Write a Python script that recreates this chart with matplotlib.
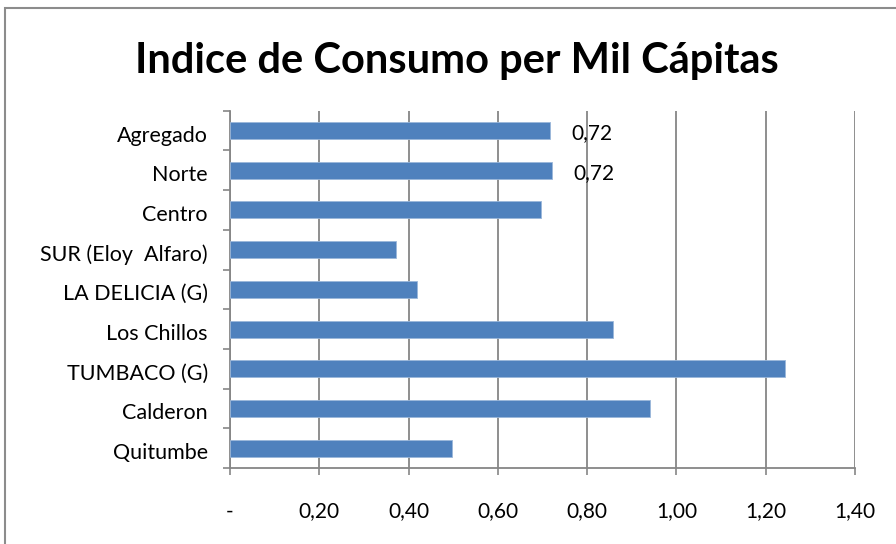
import matplotlib.pyplot as plt
import matplotlib.transforms as mtransforms
from matplotlib.patches import Rectangle

# Data (top to bottom)
categories = ["Agregado", "Norte", "Centro", "SUR (Eloy  Alfaro)", "LA DELICIA (G)",
              "Los Chillos", "TUMBACO (G)", "Calderon", "Quitumbe"]
values = [0.717, 0.722, 0.697, 0.372, 0.418, 0.859, 1.244, 0.940, 0.497]
labelled = {"Agregado": "0,72", "Norte": "0,72"}
x_ticks = [0.0, 0.2, 0.4, 0.6, 0.8, 1.0, 1.2, 1.4]
x_tick_labels = ["-", "0,20", "0,40", "0,60", "0,80", "1,00", "1,20", "1,40"]

BAR = "#4F81BD"
GRID = "#868686"

plt.rcParams["font.family"] = ["Lato", "DejaVu Sans"]

fig = plt.figure(figsize=(8.96, 5.44), dpi=100)
ax = fig.add_axes([230 / 896, 1 - 468 / 544, 625 / 896, 357.3 / 544])

ypos = list(range(len(categories)))[::-1]
ax.barh(ypos, values, height=0.43, color=BAR, edgecolor="#9BB7DA", linewidth=0.6, zorder=3)

for y, cat, v in zip(ypos, categories, values):
    if cat in labelled:
        ax.annotate(labelled[cat], (v, y), xytext=(15, -2), textcoords="offset points",
                    ha="left", va="center", fontsize=15, color="black", zorder=4)

ax.set_xlim(0, 1.4)
ax.set_ylim(-0.5, len(categories) - 0.5)
ax.set_xticks(x_ticks)
ax.set_xticklabels(x_tick_labels, fontsize=15)
ax.set_yticks(ypos)
ax.set_yticklabels(categories, fontsize=15.5)
ax.set_yticks([i - 0.5 for i in range(len(categories) + 1)], minor=True)

ax.tick_params(axis="y", which="major", length=0, pad=16)
ax.tick_params(axis="y", which="minor", length=5, width=1.2, color=GRID, direction="out")
ax.tick_params(axis="x", which="major", length=5, width=1.2, color=GRID, direction="out", pad=19)

# nudge category labels slightly down, as in the reference
shift = mtransforms.ScaledTranslation(0, -3 / 100, fig.dpi_scale_trans)
for lbl in ax.get_yticklabels():
    lbl.set_transform(lbl.get_transform() + shift)

ax.grid(axis="x", color=GRID, linewidth=1.3, zorder=0)
for side in ["top", "right"]:
    ax.spines[side].set_visible(False)
for side in ["left", "bottom"]:
    ax.spines[side].set_color(GRID)
    ax.spines[side].set_linewidth(1.3)

fig.text(0.51, 1 - 61 / 544, "Indice de Consumo per Mil Cápitas", ha="center", va="center",
         fontsize=30, fontweight="bold")

# outer chart frame (partly cropped in the reference)
fig.patches.append(Rectangle((5 / 896, -0.1), 1.2, 1 - 8 / 544 + 0.1, transform=fig.transFigure,
                             fill=False, edgecolor="#8C8C8C", linewidth=1.5))

fig.savefig("out.png", dpi=100)
